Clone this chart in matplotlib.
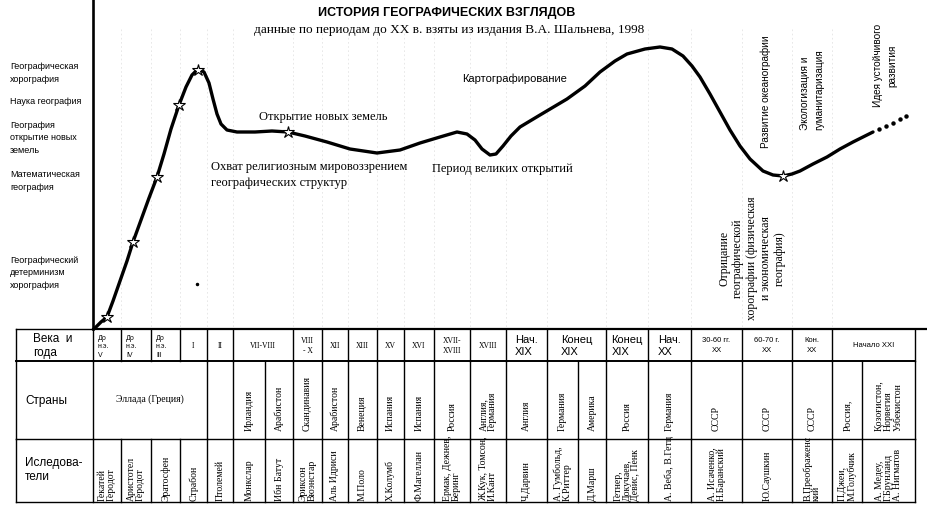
import matplotlib.pyplot as plt

SANS = ['Liberation Sans', 'DejaVu Sans']
SERIF = ['Liberation Serif', 'DejaVu Serif']

# curve of the "level" of geographic views (pixel-like units)
curve_x = [95, 101, 107, 113, 120, 127, 133, 141, 149, 157, 164, 171, 179, 186, 192, 198,
           204, 209, 213, 217, 221, 227, 237, 255, 272, 288, 305, 327, 350, 377, 400, 420,
           440, 457, 467, 475, 482, 490, 496, 503, 511, 520, 540, 567, 585, 600, 615, 627,
           645, 660, 672, 683, 692, 700, 710, 720, 730, 740, 750, 763, 773, 783, 792, 800,
           813, 827, 840, 853, 863, 873]
curve_y = [329, 323, 318, 302, 282, 262, 243, 221, 199, 178, 155, 130, 106, 88, 76, 70,
           73, 84, 100, 115, 125, 131, 133, 133, 132, 133, 137, 143, 150, 154, 151, 144,
           138, 133, 135, 141, 150, 156, 155, 147, 137, 128, 116, 100, 87, 73, 62, 55,
           50, 48, 50, 57, 67, 78, 95, 113, 131, 147, 160, 172, 176, 177, 175, 172,
           165, 158, 150, 143, 138, 133]
future_x = [879, 886, 893, 900, 906]
future_y = [130, 127, 124, 120, 117]
star_x = [107, 133, 157, 179, 198, 288, 783]
star_y = [318, 243, 178, 106, 71, 133, 177]

# left-hand stage labels
stage_labels = ['Географическая\nхорография', 'Наука география',
                'География\nоткрытие новых\nземель', 'Математическая\nгеография',
                'Географический\nдетерминизм\nхорография']
stage_y = [73, 101, 138, 181, 273]

# table
header_edges = [16, 93, 121, 151, 180, 207, 233, 293, 322, 348, 377, 404, 434, 470, 506,
                547, 606, 648, 691, 742, 792, 832, 915]
header_labels = ['Века  и\nгода', 'До\nн.э.\nV', 'До\nн.э.\nIV', 'До\nн.э.\nIII', 'I', 'II',
                 'VII-VIII', 'VIII\n- X', 'XII', 'XIII', 'XV', 'XVI', 'XVII-\nXVIII', 'XVIII',
                 'Нач.\nXIX', 'Конец\nXIX', 'Конец\nXIX', 'Нач.\nXX', '30-60 гг.\nXX',
                 '60-70 г.\nXX', 'Кон.\nXX', 'Начало XXI']
country_edges = [16, 93, 207, 233, 265, 293, 322, 348, 377, 404, 434, 470, 506, 547, 578,
                 606, 648, 691, 742, 792, 832, 862, 915]
country_labels = ['Страны', 'Эллада (Греция)', '', 'Ирландия', 'Арабистон', 'Скандинавия',
                  'Арабистон', 'Венеция', 'Испания', 'Испания', 'Россия', 'Англия,\nГермания',
                  'Англия', 'Германия', 'Америка', 'Россия', 'Германия', 'СССР', 'СССР', 'СССР',
                  'Россия,', 'Қозоғистон,\nНорвегия\nУзбекистон']
person_edges = [16, 93, 121, 151, 180, 207, 233, 265, 293, 322, 348, 377, 404, 434, 470, 506,
                547, 578, 606, 648, 691, 742, 792, 832, 862, 915]
person_labels = ['Иследова-\nтели', 'Гекатей\nГеродот', 'Аристотел\nГеродот', 'Эратосфен',
                 'Страбон', 'Птолемей', 'Монкслар', 'Ибн Батут', 'Эриксон\nВюэнстар',
                 'Аль Идриси', 'М.Поло', 'Х.Колумб', 'Ф.Магеллан', 'Ермак, Дежнев,\nБеринг',
                 'Ж.Кук, Томсон,\nИ.Кант', 'Ч.Дарвин', 'А. Гумбольд,\nК.Риттер', 'Д.Марш',
                 'Гетнер,\nДокучаев,\nДевис, Пенк', 'А. Веба, В.Гетц',
                 'А. Исаченко,\nН.Баранский', 'Ю.Саушкин', 'В.Преображенс\nкий',
                 'П.Джеи,\nМ.Голубчик', 'А. Медеу,\nГ.Брунланд\nА. Нигматов']
row_y = [330, 362, 440, 503]

fig = plt.figure(figsize=(9.27, 5.10), dpi=100)
ax = fig.add_axes([0, 0, 1, 1])
ax.set_xlim(0, 927)
ax.set_ylim(510, 0)
ax.axis('off')

# faint dotted guide lines
for x in header_edges[2:-1]:
    ax.plot([x, x], [30, 328], color='#e4e4e4', lw=0.6, ls=(0, (2, 3)), zorder=0)

# axes
ax.plot([93, 93], [0, 330], color='black', lw=1.9)
ax.plot([93, 927], [330, 330], color='black', lw=1.6)

# curve
ax.plot(curve_x, curve_y, color='black', lw=2.4, solid_capstyle='round',
        solid_joinstyle='round', zorder=3)
ax.plot(future_x, future_y, ls='none', marker='o', ms=2.2, color='black', zorder=3)
ax.plot(star_x, star_y, ls='none', marker='*', ms=9, mfc='white', mec='black',
        mew=0.8, zorder=4)
ax.plot([197], [285], ls='none', marker='o', ms=1.5, color='black')

# titles
ax.text(447, 13, 'ИСТОРИЯ ГЕОГРАФИЧЕСКИХ ВЗГЛЯДОВ', family=SANS, weight='bold',
        fontsize=9, ha='center', va='center')
ax.text(449, 30, 'данные по периодам до XX в. взяты из издания В.А. Шальнева, 1998',
        family=SERIF, fontsize=9.5, ha='center', va='center')

# stage labels
for lab, y in zip(stage_labels, stage_y):
    ax.text(10, y, lab, family=SANS, fontsize=6.5, ha='left', va='center', linespacing=1.5)

# annotations on the curve
ax.text(515, 79, 'Картографирование', family=SANS, fontsize=8, ha='center', va='center')
ax.text(323, 117, 'Открытие новых земель', family=SERIF, fontsize=9, ha='center', va='center')
ax.text(211, 175, 'Охват религиозным мировоззрением\nгеографических структур', family=SERIF,
        fontsize=9, ha='left', va='center', linespacing=1.35)
ax.text(502, 169, 'Период великих открытий', family=SERIF, fontsize=9, ha='center',
        va='center')
ax.text(752, 320, 'Отрицание\nгеографической\nхорографии (физическая\nи экономическая\nгеография)',
        family=SERIF, fontsize=8.5, rotation=90, ha='center', va='bottom',
        multialignment='center', linespacing=1.2)
ax.text(766, 148, 'Развитие океанографии', family=SANS, fontsize=7.2, rotation=90,
        ha='center', va='bottom')
ax.text(812, 130, 'Экологизация и\nгуманитаризация', family=SANS, fontsize=7.2, rotation=90,
        ha='center', va='bottom', multialignment='left', linespacing=1.5)
ax.text(885, 107, 'Идея устойчивого\nразвития', family=SANS, fontsize=7.2, rotation=90,
        ha='center', va='bottom', multialignment='center', linespacing=1.5)

# table grid
ax.plot([16, 93], [330, 330], color='black', lw=1.0)
ax.plot([16, 915], [row_y[1], row_y[1]], color='black', lw=1.4)
ax.plot([16, 915], [row_y[2], row_y[2]], color='black', lw=1.0)
ax.plot([16, 915], [row_y[3], row_y[3]], color='black', lw=1.0)
for x in header_edges:
    ax.plot([x, x], [row_y[0], row_y[1]], color='black', lw=1.0)
for x in country_edges:
    ax.plot([x, x], [row_y[1], row_y[2]], color='black', lw=1.0)
for x in person_edges:
    ax.plot([x, x], [row_y[2], row_y[3]], color='black', lw=1.0)

# header row
for i, lab in enumerate(header_labels):
    x0, x1 = header_edges[i], header_edges[i + 1]
    cx = (x0 + x1) / 2
    if i == 0:
        ax.text(33, 346, lab, family=SANS, fontsize=8.5, ha='left', va='center',
                linespacing=1.2)
    elif i in (14, 15, 16, 17):
        ax.text(cx, 346, lab, family=SANS, fontsize=8, ha='center', va='center',
                multialignment='left', linespacing=1.25)
    elif i >= 18:
        ax.text(cx, 346, lab, family=SANS, fontsize=5.5, ha='center', va='center',
                linespacing=1.6)
    elif i in (1, 2, 3):
        ax.text(x0 + 5, 347, lab, family=SANS, fontsize=5, ha='left', va='center',
                linespacing=1.3)
    else:
        ax.text(cx, 346, lab, family=SERIF, fontsize=5.5, ha='center', va='center',
                linespacing=1.2)

# countries row
for i, lab in enumerate(country_labels):
    x0, x1 = country_edges[i], country_edges[i + 1]
    cx = (x0 + x1) / 2
    if i == 0:
        ax.text(25, 401, lab, family=SANS, fontsize=8.5, ha='left', va='center')
    elif i == 1:
        ax.text(cx, 399, lab, family=SERIF, fontsize=7, ha='center', va='center')
    elif lab:
        ax.text(cx, 431, lab, family=SERIF, fontsize=7, rotation=90, ha='center',
                va='bottom', multialignment='left', linespacing=1.05)

# researchers row
for i, lab in enumerate(person_labels):
    x0, x1 = person_edges[i], person_edges[i + 1]
    cx = (x0 + x1) / 2
    if i == 0:
        ax.text(25, 470, lab, family=SANS, fontsize=8.5, ha='left', va='center',
                linespacing=1.25)
    else:
        ax.text(cx, 501, lab, family=SERIF, fontsize=7, rotation=90, ha='center',
                va='bottom', multialignment='left', linespacing=1.0)

fig.savefig('out.png', dpi=100)
